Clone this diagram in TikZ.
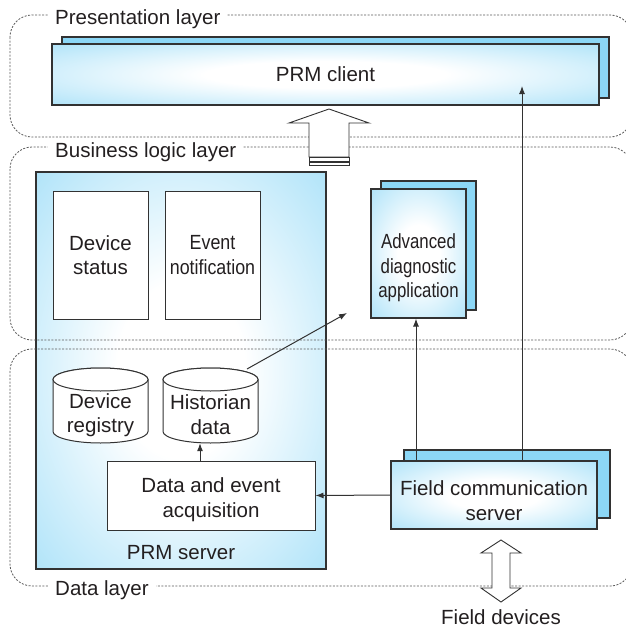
\documentclass[tikz,border=0pt]{standalone}
\usepackage{fontspec}
\setmainfont{Liberation Sans}
\newfontfamily\narrowA[FakeStretch=0.87]{Liberation Sans}
\newfontfamily\narrowB[FakeStretch=0.82]{Liberation Sans}
\usetikzlibrary{arrows.meta,calc}

\definecolor{prmblue}{RGB}{140,215,246}
\definecolor{ink}{RGB}{35,31,32}
\definecolor{edge}{RGB}{50,50,50}

% white core fading out to blue towards the border
\pgfdeclareradialshading{glow}{\pgfpoint{0bp}{0bp}}{%
  color(0bp)=(white); color(11bp)=(white); color(47bp)=(prmblue); color(100bp)=(prmblue)}

% database drum: #1 = centre x, #2 = top y, #3 = bottom y
\newcommand\drum[3]{%
  \filldraw[drumline] (#1-47.5,#2+11.5) -- (#1-47.5,#3-11.5)
    arc[start angle=180,end angle=360,x radius=47.5pt,y radius=11.5pt]
    -- (#1+47.5,#2+11.5)
    arc[start angle=0,end angle=180,x radius=47.5pt,y radius=11.5pt] -- cycle;
  \draw[drumline] (#1,#2+11.5) ellipse[x radius=47.5pt,y radius=11.5pt];}

\tikzset{
  every node/.style={text=ink, font=\fontsize{20.5}{24.5}\selectfont},
  bluebox/.style={draw=edge, line width=1.1pt, shading=glow, inner sep=0pt},
  backbox/.style={draw=edge, line width=1.1pt, fill=prmblue, inner sep=0pt},
  whitebox/.style={draw=edge, line width=1pt, fill=white, inner sep=0pt, align=center},
  drumline/.style={draw=edge, line width=1pt, fill=white},
  layer/.style={draw=gray!70!black, line width=0.8pt, dash pattern=on 2pt off 1.5pt,
    rounded corners=22pt},
  layerlabel/.style={fill=white, inner xsep=7pt, inner ysep=2pt, anchor=base west},
  link/.style={draw=edge, line width=1pt, -{Latex[length=8pt,width=6pt]}},
  hollow/.style={draw=edge, line width=0.9pt, fill=white, line join=miter},
  txt/.style={align=center, inner sep=0pt},
  ghost/.style={inner sep=0pt},
  narrowtext/.style={font={\narrowA\fontsize{20.5}{24.5}\selectfont}},
  narrowertext/.style={font={\narrowB\fontsize{20.5}{24.5}\selectfont}},
}

\begin{document}
\begin{tikzpicture}[x=1pt, y=-1pt]
\useasboundingbox (0,0) rectangle (625,629);

% PRM server with its parts
\node[bluebox, minimum width=290pt, minimum height=397pt] (server) at (181,370.5) {};
\node[anchor=base, inner sep=0pt] (serverlbl) at (181,559) {PRM server};
\node[whitebox, minimum width=95pt, minimum height=128pt] (devstat) at (100.5,255) {Device\\status};
\node[whitebox, narrowtext, minimum width=95pt, minimum height=128pt] (evnote) at (212.5,255)
  {Event\\notification};

\drum{100.5}{368}{443}
\node[ghost, minimum width=95pt, minimum height=75pt] (devreg) at (100.5,405.5) {};
\node[txt] at (100.5,415) {Device\\registry};
\drum{210.5}{368}{443}
\node[ghost, minimum width=95pt, minimum height=75pt] (hist) at (210.5,405.5) {};
\node[txt] at (210.5,414.5) {Historian\\data};

\node[whitebox, minimum width=208pt, minimum height=69pt] (acq) at (211,495.5) {};
\node[txt] at (211,499.5) {Data and event\\acquisition};

% layer outlines
\draw[layer] (10,15) rectangle (632,137);
\draw[layer] (10,147) rectangle (632,340);
\draw[layer] (10,349) rectangle (632,586);

% PRM client
\node[backbox, minimum width=547pt, minimum height=61pt] (clientback) at (335.5,67.5) {};
\node[bluebox, minimum width=547pt, minimum height=61pt] (client) at (325.5,74.5) {PRM client};

% advanced diagnostic application
\node[backbox, minimum width=95pt, minimum height=129pt] (advback) at (428.5,245.5) {};
\node[bluebox, minimum width=95pt, minimum height=129pt] (adv) at (418.5,253.5) {};
\node[txt, narrowertext] at (418.5,268) {Advanced\\diagnostic\\application};

% field communication server
\node[backbox, minimum width=206pt, minimum height=68pt] (fcsback) at (507,484) {};
\node[bluebox, minimum width=206pt, minimum height=68pt] (fcs) at (494,495) {};
\node[txt] at (494,500.5) {Field communication\\server};

% connectors
\coordinate (histrim) at (247,369);
\coordinate (advin) at (347,313);
\coordinate (hx) at (200,0);
\coordinate (ax) at (416,0);
\coordinate (clientin) at (522,86);
\draw[link] (histrim) -- (advin);
\draw[link] (acq.north -| hx) -- (hist.south -| hx);
\draw[link] (fcs.west) -- (acq.east);
\draw[link] (fcs.north -| ax) -- (adv.south -| ax);
\draw[link] (fcs.north -| clientin) -- (clientin);

% hollow arrow from the business logic layer up to the client
\draw[hollow] (329,109) -- (369,123) -- (349,123) -- (349,157) -- (309,157)
  -- (309,123) -- (289,123) -- cycle;
\draw[hollow, line width=0.8pt] (309,157) rectangle (349,161);
\draw[hollow, line width=0.8pt] (309,162) rectangle (349,165);

% two-way hollow arrow to the field devices
\draw[hollow] (501,540) -- (521,553) -- (510,553) -- (510,588) -- (521,588)
  -- (501,602) -- (481,588) -- (492,588) -- (492,553) -- (481,553) -- cycle;
\node[anchor=base, inner sep=0pt] (fdev) at (501,624) {Field devices};

% layer names
\node[layerlabel] (lpres) at (48,24) {Presentation layer};
\node[layerlabel] (lbus) at (48,157) {Business logic layer};
\node[layerlabel] (ldata) at (48,595) {Data layer};
\end{tikzpicture}
\end{document}
